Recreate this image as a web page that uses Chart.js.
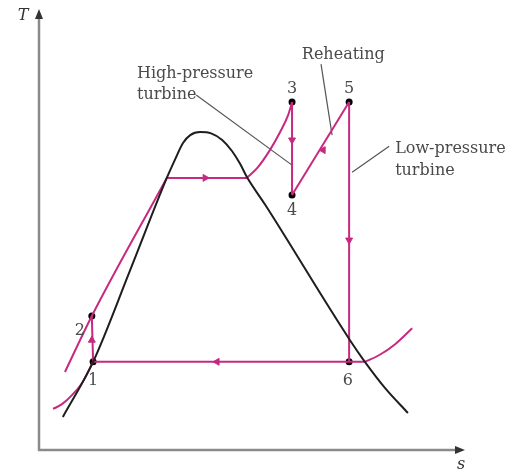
<!DOCTYPE html>
<html>
<head>
<meta charset="utf-8">
<script src="https://cdn.jsdelivr.net/npm/chart.js@4.4.1/dist/chart.umd.min.js"></script>
<style>
html,body{margin:0;padding:0;background:#fff;}
#wrap{width:518px;height:472px;}
</style>
</head>
<body>
<div id="wrap"><canvas id="c" width="518" height="472"></canvas></div>
<script>
// ---- data (s = entropy, T = temperature, arbitrary units 0..10) ----
const domeS = [0.56, 1.27, 2.14, 3.00, 3.19, 3.38, 3.55, 3.78, 4.04, 4.30, 4.53, 4.72, 4.88, 5.31, 7.30, 7.65, 8.12, 8.66];
const domeT = [0.75, 2.00, 4.08, 6.17, 6.58, 6.96, 7.14, 7.21, 7.18, 7.03, 6.78, 6.49, 6.19, 5.56, 2.49, 2.00, 1.41, 0.84];

const hpLiquidS = [0.61, 1.24, 3.00];
const hpLiquidT = [1.77, 3.04, 6.17];
const hpBoilS = [3.00, 4.88];
const hpBoilT = [6.17, 6.17];
const hpSuperS = [4.88, 5.12, 5.42, 5.66, 5.85, 5.94];
const hpSuperT = [6.17, 6.39, 6.80, 7.21, 7.60, 7.89];

const lpLeftS = [0.33, 0.54, 0.78, 1.01, 1.27];
const lpLeftT = [0.93, 1.04, 1.25, 1.52, 2.00];
const lpMidS = [1.27, 7.65];
const lpMidT = [2.00, 2.00];
const lpRightS = [7.65, 8.00, 8.36, 8.76];
const lpRightT = [2.00, 2.16, 2.40, 2.76];

const stateNames = ['1', '2', '3', '4', '5', '6'];
const stateS = [1.27, 1.24, 5.94, 5.94, 7.28, 7.28];
const stateT = [2.00, 3.04, 7.89, 5.78, 7.89, 2.00];

// process paths between states (indices into state arrays)
const processes = [[0, 1], [2, 3], [3, 4], [4, 5]];

// direction arrows along the cycle
const arrowS = [1.24, 3.90, 5.94, 6.67, 7.28, 4.18];
const arrowT = [2.49, 6.17, 7.03, 6.80, 4.76, 2.00];
const arrowDir = [0, 90, 180, 31, 180, 270];

// callouts
const calloutLines = [
  [[3.69, 8.05], [5.94, 6.46]],
  [[6.62, 8.75], [6.88, 7.14]],
  [[8.22, 6.89], [7.35, 6.30]]
];
const calloutText = [
  {lines: ['High-pressure', 'turbine'], s: 2.30, T: 8.44},
  {lines: ['Reheating'], s: 6.17, T: 8.87},
  {lines: ['Low-pressure', 'turbine'], s: 8.36, T: 6.73}
];
const stateLabelS = [1.27, 0.96, 5.94, 5.94, 7.28, 7.25];
const stateLabelT = [1.47, 2.61, 8.10, 5.33, 8.10, 1.47];

// ---- styles ----
const PINK = '#c62a80';
const BLACK = '#1e1e1e';
const GREY_TXT = '#4a4a4a';
const FONT = '16px "DejaVu Serif", serif';

const pts = (xs, ys) => xs.map((x, i) => ({x: x, y: ys[i]}));

function lineDs(data, color, width, mode) {
  return {
    data: data, showLine: true, borderColor: color, borderWidth: width,
    pointRadius: 0, pointHoverRadius: 0, fill: false,
    cubicInterpolationMode: mode || 'default', tension: 0
  };
}

const datasets = [];
datasets.push(lineDs(pts(domeS, domeT), BLACK, 2, 'monotone'));
datasets.push(lineDs(pts(hpLiquidS, hpLiquidT), PINK, 2, 'monotone'));
datasets.push(lineDs(pts(hpBoilS, hpBoilT), PINK, 2));
datasets.push(lineDs(pts(hpSuperS, hpSuperT), PINK, 2, 'monotone'));
datasets.push(lineDs(pts(lpLeftS, lpLeftT), PINK, 2, 'monotone'));
datasets.push(lineDs(pts(lpMidS, lpMidT), PINK, 2));
datasets.push(lineDs(pts(lpRightS, lpRightT), PINK, 2, 'monotone'));
processes.forEach(p => {
  datasets.push(lineDs([{x: stateS[p[0]], y: stateT[p[0]]}, {x: stateS[p[1]], y: stateT[p[1]]}], PINK, 2));
});
calloutLines.forEach(l => {
  datasets.push(lineDs(l.map(q => ({x: q[0], y: q[1]})), '#555', 1.2));
});
datasets.push({
  data: pts(arrowS, arrowT), showLine: false, pointStyle: 'triangle',
  pointRadius: 4, pointRotation: arrowDir, backgroundColor: PINK, borderColor: PINK, borderWidth: 1
});
datasets.push({
  data: pts(stateS, stateT), showLine: false, pointStyle: 'circle',
  pointRadius: 3.5, backgroundColor: '#000', borderColor: '#000', borderWidth: 0
});

const decor = {
  id: 'decor',
  beforeDatasetsDraw(chart) {
    const ctx = chart.ctx;
    const xs = chart.scales.x, ys = chart.scales.y;
    const x0 = xs.getPixelForValue(xs.min), y0 = ys.getPixelForValue(ys.min);
    const yTop = ys.getPixelForValue(ys.max), xEnd = xs.getPixelForValue(xs.max);
    ctx.save();
    ctx.strokeStyle = '#8a8a8a';
    ctx.lineWidth = 2.5;
    ctx.beginPath();
    ctx.moveTo(x0, y0); ctx.lineTo(x0, yTop + 8);
    ctx.moveTo(x0 - 1.2, y0); ctx.lineTo(xEnd - 8, y0);
    ctx.stroke();
    ctx.fillStyle = '#333';
    ctx.beginPath();
    ctx.moveTo(x0, yTop); ctx.lineTo(x0 - 4, yTop + 10); ctx.lineTo(x0 + 4, yTop + 10); ctx.closePath();
    ctx.fill();
    ctx.beginPath();
    ctx.moveTo(xEnd, y0); ctx.lineTo(xEnd - 10, y0 - 4); ctx.lineTo(xEnd - 10, y0 + 4); ctx.closePath();
    ctx.fill();
    ctx.restore();
  },
  afterDatasetsDraw(chart) {
    const ctx = chart.ctx;
    const xs = chart.scales.x, ys = chart.scales.y;
    ctx.save();
    ctx.fillStyle = GREY_TXT;
    ctx.font = FONT;
    ctx.textBaseline = 'alphabetic';
    ctx.textAlign = 'left';
    calloutText.forEach(c => {
      const px = xs.getPixelForValue(c.s);
      const py = ys.getPixelForValue(c.T);
      c.lines.forEach((t, i) => ctx.fillText(t, px, py + i * 21.5));
    });
    ctx.textAlign = 'center';
    stateNames.forEach((n, i) => {
      ctx.fillText(n, xs.getPixelForValue(stateLabelS[i]), ys.getPixelForValue(stateLabelT[i]));
    });
    // axis titles
    ctx.fillStyle = '#333';
    ctx.font = 'italic 16px "DejaVu Serif", serif';
    const a = chart.chartArea;
    ctx.fillText('T', a.left - 16, a.top + 11);
    ctx.fillText('s', a.right - 4, a.bottom + 19);
    ctx.restore();
  }
};

new Chart(document.getElementById('c'), {
  type: 'scatter',
  data: {datasets: datasets},
  options: {
    responsive: false,
    animation: false,
    layout: {padding: {left: 39, right: 53, top: 9, bottom: 22}},
    plugins: {legend: {display: false}, tooltip: {enabled: false}},
    events: [],
    scales: {
      x: {type: 'linear', min: 0, max: 10, display: false},
      y: {type: 'linear', min: 0, max: 10, display: false}
    }
  },
  plugins: [decor]
});
</script>
</body>
</html>
